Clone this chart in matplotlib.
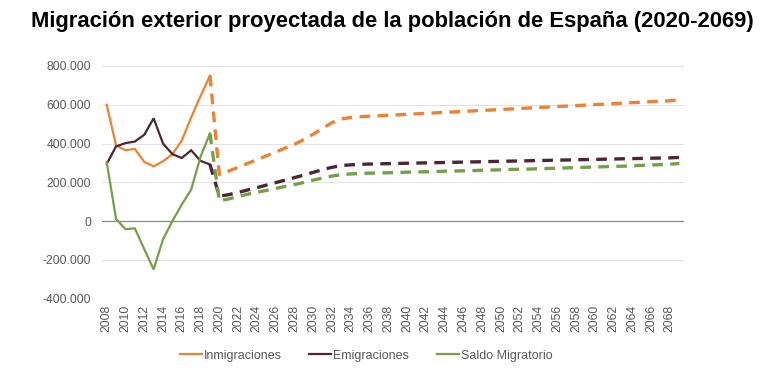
import matplotlib
matplotlib.use("Agg")
import matplotlib.pyplot as plt
import numpy as np

plt.rcParams["font.family"] = ["Liberation Sans", "DejaVu Sans"]

years = list(range(2008, 2070))

# historical (2008-2019), thousands
inm_hist = [600, 390, 365, 372, 305, 282, 308, 345, 415, 535, 645, 750]
emi_hist = [295, 385, 402, 410, 445, 530, 400, 345, 325, 365, 310, 292]
sal_hist = [305, 10, -42, -38, -145, -250, -95, 0, 85, 162, 332, 452]

# projection (2020-2069), thousands
inm_proj = [240, 258, 277, 297, 316, 336, 356, 376, 396, 420,
            448, 478, 508, 527, 534, 538, 541, 543, 546, 548,
            551, 553, 556, 558, 561, 563, 566, 568, 571, 573,
            576, 578, 581, 583, 586, 588, 591, 593, 596, 598,
            601, 603, 606, 608, 611, 613, 616, 618, 621, 625]
emi_proj = [128, 136, 147, 160, 172, 185, 198, 211, 224, 237,
            251, 265, 277, 286, 290, 292, 294, 295, 296, 297,
            298, 299, 300, 301, 302, 303, 304, 305, 306, 307,
            308, 309, 310, 311, 312, 313, 314, 315, 316, 317,
            318, 319, 320, 321, 322, 323, 324, 325, 326, 328]
sal_proj = [104, 114, 126, 138, 148, 158, 168, 178, 188, 199,
            211, 222, 232, 239, 243, 245, 247, 248, 249, 250,
            252, 253, 254, 255, 257, 258, 259, 260, 262, 263,
            264, 266, 267, 268, 270, 271, 273, 274, 276, 277,
            279, 280, 282, 283, 285, 287, 289, 291, 293, 297]

labels = ["Inmigraciones", "Emigraciones", "Saldo Migratorio"]
colors = ["#EE8232", "#4C2537", "#74A049"]

fig = plt.figure(figsize=(7.75, 3.82), dpi=100)
ax = fig.add_axes([102/775, 83.5/382, 582/775, 232.5/382])

hist_years = years[:12]
proj_years = years[11:]
series = [(inm_hist, inm_proj), (emi_hist, emi_proj), (sal_hist, sal_proj)]
for (h, p), c, lab in zip(series, colors, labels):
    hv = np.array(h) * 1000
    pv = np.array([h[-1]] + p) * 1000
    ax.plot(hist_years, hv, color=c, lw=1.6, label=lab, solid_joinstyle="miter")
    ax.plot(proj_years, pv, color=c, lw=2.4, linestyle=(0, (3.2, 2.2)))

ax.set_xlim(2007.5, 2069.5)
ax.set_ylim(-400000, 800000)
yt = np.arange(-400000, 800001, 200000)
ax.set_yticks(yt)
ax.set_yticklabels([("{:,}".format(int(v)).replace(",", ".")) for v in yt])
ax.set_xticks(years[::2])
ax.set_xticklabels([str(y) for y in years[::2]], rotation=90)
ax.tick_params(axis="both", length=0, labelsize=8.8, colors="#595959")
ax.tick_params(axis="y", pad=8)
ax.tick_params(axis="x", pad=4.5)
for s in ax.spines.values():
    s.set_visible(False)
ax.grid(axis="y", color="#E3E3E3", lw=0.8)
ax.set_axisbelow(True)
ax.axhline(0, color="#8C8C8C", lw=0.9, zorder=1)

leg = ax.legend(loc="center", bbox_to_anchor=(264/582, -57/232.5), ncol=3,
                frameon=False, fontsize=9, handlelength=1.76, handletextpad=0.16,
                columnspacing=2.2, borderpad=0)
for t in leg.get_texts():
    t.set_color("#595959")

fig.text(392.5/775, 1 - 22/382, "Migración exterior proyectada de la población de España (2020-2069)",
         ha="center", va="center", fontsize=15.8, fontweight="bold", color="black")

fig.savefig("out.png", dpi=100)
